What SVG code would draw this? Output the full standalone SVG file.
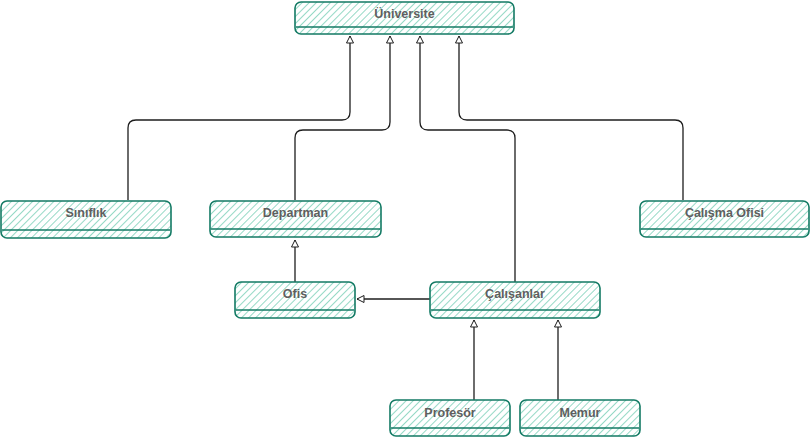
<svg xmlns="http://www.w3.org/2000/svg" width="811" height="439" viewBox="0 0 811 439">
  <style>
    .box { fill: url(#hatch); stroke: #137a64; stroke-width: 1.6; }
    .sep { stroke: #137a64; stroke-width: 1.4; fill: none; }
    .lbl { font-family: "Liberation Sans", Arial, sans-serif; font-size: 12.5px; font-weight: bold; fill: #5f5f5f; text-anchor: middle; }
    .edge { fill: none; stroke: #1e1e1e; stroke-width: 1.3; marker-end: url(#tri); }
  </style>
  <defs>
    <pattern id="hatch" patternUnits="userSpaceOnUse" width="5" height="5" patternTransform="rotate(45)">
      <rect width="5" height="5" fill="#ffffff"/>
      <line x1="0" y1="0" x2="0" y2="5" stroke="#4fbf9f" stroke-width="1.2"/>
    </pattern>
    <marker id="tri" markerWidth="10" markerHeight="10" refX="8" refY="4" orient="auto" markerUnits="userSpaceOnUse">
      <path d="M1,0.5 L8,4 L1,7.5 Z" fill="#ffffff" stroke="#1e1e1e" stroke-width="1"/>
    </marker>
  </defs>

  <g id="connectors">
    <path class="edge" d="M128,200 V128 Q128,120 136,120 H342 Q350,120 350,112 V36"/>
    <path class="edge" d="M295,200 V138 Q295,130 303,130 H382 Q390,130 390,122 V36"/>
    <path class="edge" d="M515,282 V138 Q515,130 507,130 H428 Q420,130 420,122 V36"/>
    <path class="edge" d="M683,200 V128 Q683,120 675,120 H467 Q459,120 459,112 V36"/>
    <path class="edge" d="M295,282 V240"/>
    <path class="edge" d="M430,299 H357"/>
    <path class="edge" d="M474,400 V320"/>
    <path class="edge" d="M558,400 V320"/>
  </g>

  <g id="universite">
    <rect class="box" x="295" y="2" width="219" height="32" rx="6"/>
    <line class="sep" x1="296" y1="27" x2="513" y2="27"/>
    <text class="lbl" x="404.5" y="18">Üniversite</text>
  </g>
  <g id="siniflik">
    <rect class="box" x="1" y="201" width="170" height="37" rx="6"/>
    <line class="sep" x1="2" y1="230" x2="170" y2="230"/>
    <text class="lbl" x="86" y="217">Sınıflık</text>
  </g>
  <g id="departman">
    <rect class="box" x="210" y="201" width="171" height="36" rx="6"/>
    <line class="sep" x1="211" y1="229" x2="380" y2="229"/>
    <text class="lbl" x="295.5" y="217">Departman</text>
  </g>
  <g id="calisma-ofisi">
    <rect class="box" x="640" y="201" width="169" height="36" rx="6"/>
    <line class="sep" x1="641" y1="229" x2="808" y2="229"/>
    <text class="lbl" x="724.5" y="217">Çalışma Ofisi</text>
  </g>
  <g id="ofis">
    <rect class="box" x="235" y="282" width="120" height="36" rx="6"/>
    <line class="sep" x1="236" y1="310" x2="354" y2="310"/>
    <text class="lbl" x="295" y="298">Ofis</text>
  </g>
  <g id="calisanlar">
    <rect class="box" x="430" y="282" width="170" height="36" rx="6"/>
    <line class="sep" x1="431" y1="310" x2="599" y2="310"/>
    <text class="lbl" x="515" y="298">Çalışanlar</text>
  </g>
  <g id="profesor">
    <rect class="box" x="390" y="400" width="120" height="36" rx="6"/>
    <line class="sep" x1="391" y1="428" x2="509" y2="428"/>
    <text class="lbl" x="450" y="417">Profesör</text>
  </g>
  <g id="memur">
    <rect class="box" x="520" y="400" width="120" height="36" rx="6"/>
    <line class="sep" x1="521" y1="428" x2="639" y2="428"/>
    <text class="lbl" x="580" y="417">Memur</text>
  </g>
</svg>
